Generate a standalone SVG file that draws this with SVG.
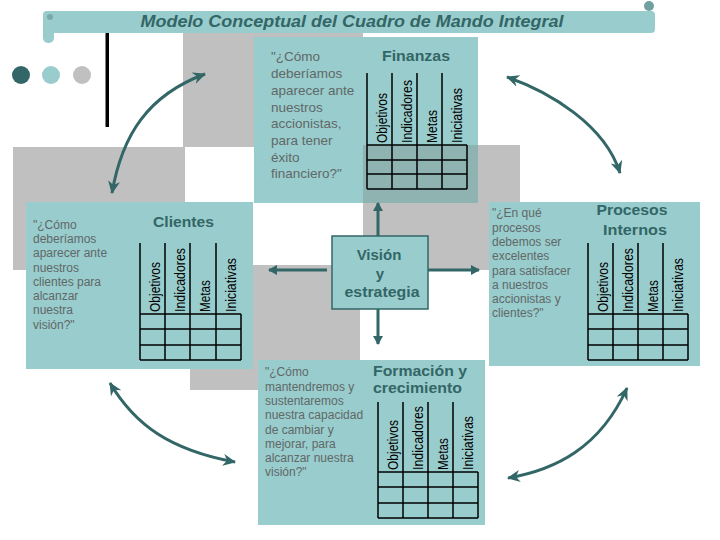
<svg xmlns="http://www.w3.org/2000/svg" width="720" height="540" viewBox="0 0 720 540">
<style>
.gray{fill:#c0c0c0}
.box{fill:#99cccc}
.q{font-family:"Liberation Sans",Arial,sans-serif;font-size:12px;fill:#606868}
.qf{font-size:13.5px}
.t{font-family:"Liberation Sans",Arial,sans-serif;font-weight:bold;font-size:15px;fill:#336666}
.lbl{font-family:"Liberation Sans",Arial,sans-serif;font-size:14px;fill:#000}
.grid{stroke:#000;stroke-width:1.5;fill:none}
.arc{stroke:#336666;stroke-width:3;fill:none;marker-start:url(#barb);marker-end:url(#barb)}
.st{stroke:#336666;stroke-width:3;fill:none;marker-end:url(#tri)}
</style>
<defs>
<marker id="barb" markerUnits="userSpaceOnUse" markerWidth="14" markerHeight="12" refX="12" refY="6" orient="auto-start-reverse">
<path d="M0,0 L13,6 L0,12 L4,6 z" fill="#336666"/>
</marker>
<marker id="tri" markerUnits="userSpaceOnUse" markerWidth="10" markerHeight="10" refX="8" refY="5" orient="auto">
<path d="M0,0 L9,5 L0,10 z" fill="#336666"/>
</marker>
</defs>
<rect width="720" height="540" fill="#fff"/>
<g id="background">
<rect class="gray" x="183" y="33" width="180" height="114"/>
<rect class="gray" x="13" y="147" width="172" height="123"/>
<rect class="gray" x="363" y="145" width="157" height="125"/>
<rect class="gray" x="190" y="265" width="170" height="125"/>
</g>
<g id="banner">
<rect x="43" y="11" width="612" height="22" rx="4" fill="#99cccc"/>
<rect x="43" y="11" width="11" height="32" rx="5" fill="#99cccc"/>
<circle cx="50" cy="17" r="3" fill="#7aa8a8"/>
<circle cx="649" cy="6" r="5" fill="#70a0a0"/>
<text x="352" y="27" text-anchor="middle" textLength="423" lengthAdjust="spacingAndGlyphs" font-family="Liberation Sans, Arial, sans-serif" font-size="17" font-weight="bold" font-style="italic" fill="#336666">Modelo Conceptual del Cuadro de Mando Integral</text>
</g>
<g id="decor">
<rect x="105.5" y="33" width="3.5" height="94" fill="#000"/>
<circle cx="21" cy="75" r="9" fill="#336666"/>
<circle cx="51" cy="75" r="9" fill="#99cccc"/>
<circle cx="82" cy="75" r="9" fill="#c0c0c0"/>
</g>
<g id="finanzas">
<rect class="box" x="254" y="37" width="224" height="166"/>
<rect x="363" y="145" width="115" height="58" fill="#8fb3b0"/>
<text class="q qf"><tspan x="271" y="61">"¿Cómo</tspan><tspan x="271" y="78">deberíamos</tspan><tspan x="271" y="95">aparecer ante</tspan><tspan x="271" y="112">nuestros</tspan><tspan x="271" y="128">accionistas,</tspan><tspan x="271" y="145">para tener</tspan><tspan x="271" y="162">éxito</tspan><tspan x="271" y="178">financiero?"</tspan></text>
<text class="t" x="382" y="61" textLength="68" lengthAdjust="spacingAndGlyphs">Finanzas</text>
<path class="grid" d="M367,73V189M392,73V189M417,73V189M442,73V189M467,145V189M367,145H467M367,160H467M367,174H467M367,189H467"/>
<text class="lbl" transform="translate(387,143) rotate(-90)" textLength="50" lengthAdjust="spacingAndGlyphs">Objetivos</text>
<text class="lbl" transform="translate(412,143) rotate(-90)" textLength="63" lengthAdjust="spacingAndGlyphs">Indicadores</text>
<text class="lbl" transform="translate(437,143) rotate(-90)" textLength="33" lengthAdjust="spacingAndGlyphs">Metas</text>
<text class="lbl" transform="translate(462,143) rotate(-90)" textLength="55" lengthAdjust="spacingAndGlyphs">Iniciativas</text>
</g>
<g id="clientes">
<rect class="box" x="26" y="202" width="227" height="167"/>
<text class="q"><tspan x="33" y="229">"¿Cómo</tspan><tspan x="33" y="243">deberíamos</tspan><tspan x="33" y="257">aparecer ante</tspan><tspan x="33" y="272">nuestros</tspan><tspan x="33" y="286">clientes para</tspan><tspan x="33" y="300">alcanzar</tspan><tspan x="33" y="314">nuestra</tspan><tspan x="33" y="329">visión?"</tspan></text>
<text class="t" x="153" y="227" textLength="61" lengthAdjust="spacingAndGlyphs">Clientes</text>
<path class="grid" d="M140,243V360M165,243V360M190,243V360M216,243V360M241,314V360M140,314H241M140,329H241M140,345H241M140,360H241"/>
<text class="lbl" transform="translate(160,312) rotate(-90)" textLength="50" lengthAdjust="spacingAndGlyphs">Objetivos</text>
<text class="lbl" transform="translate(185,312) rotate(-90)" textLength="64" lengthAdjust="spacingAndGlyphs">Indicadores</text>
<text class="lbl" transform="translate(210,312) rotate(-90)" textLength="32" lengthAdjust="spacingAndGlyphs">Metas</text>
<text class="lbl" transform="translate(236,312) rotate(-90)" textLength="54" lengthAdjust="spacingAndGlyphs">Iniciativas</text>
</g>
<g id="procesos">
<rect class="box" x="489" y="202" width="211" height="164"/>
<text class="q"><tspan x="492" y="217">"¿En qué</tspan><tspan x="492" y="232">procesos</tspan><tspan x="492" y="246">debemos ser</tspan><tspan x="492" y="260">excelentes</tspan><tspan x="492" y="275">para satisfacer</tspan><tspan x="492" y="289">a nuestros</tspan><tspan x="492" y="303">accionistas y</tspan><tspan x="492" y="317">clientes?"</tspan></text>
<text class="t" x="632" y="215" text-anchor="middle" textLength="71" lengthAdjust="spacingAndGlyphs">Procesos</text>
<text class="t" x="635" y="235" text-anchor="middle" textLength="64" lengthAdjust="spacingAndGlyphs">Internos</text>
<path class="grid" d="M588,243V360M613,243V360M638,243V360M663,243V360M688,314V360M588,314H688M588,329H688M588,345H688M588,360H688"/>
<text class="lbl" transform="translate(608,312) rotate(-90)" textLength="50" lengthAdjust="spacingAndGlyphs">Objetivos</text>
<text class="lbl" transform="translate(633,312) rotate(-90)" textLength="64" lengthAdjust="spacingAndGlyphs">Indicadores</text>
<text class="lbl" transform="translate(658,312) rotate(-90)" textLength="32" lengthAdjust="spacingAndGlyphs">Metas</text>
<text class="lbl" transform="translate(683,312) rotate(-90)" textLength="54" lengthAdjust="spacingAndGlyphs">Iniciativas</text>
</g>
<g id="formacion">
<rect class="box" x="258" y="360" width="227" height="165"/>
<text class="q"><tspan x="265" y="376">"¿Cómo</tspan><tspan x="265" y="391">mantendremos y</tspan><tspan x="265" y="405">sustentaremos</tspan><tspan x="265" y="419">nuestra capacidad</tspan><tspan x="265" y="434">de cambiar y</tspan><tspan x="265" y="448">mejorar, para</tspan><tspan x="265" y="462">alcanzar nuestra</tspan><tspan x="265" y="476">visión?"</tspan></text>
<text class="t" x="373" y="376" font-size="16" textLength="94" lengthAdjust="spacingAndGlyphs">Formación y</text>
<text class="t" x="373" y="393" font-size="16" textLength="89" lengthAdjust="spacingAndGlyphs">crecimiento</text>
<path class="grid" d="M378,402V518M403,402V518M428,402V518M453,402V518M478,472V518M378,472H478M378,487H478M378,503H478M378,518H478"/>
<text class="lbl" transform="translate(398,470) rotate(-90)" textLength="50" lengthAdjust="spacingAndGlyphs">Objetivos</text>
<text class="lbl" transform="translate(423,470) rotate(-90)" textLength="64" lengthAdjust="spacingAndGlyphs">Indicadores</text>
<text class="lbl" transform="translate(448,470) rotate(-90)" textLength="32" lengthAdjust="spacingAndGlyphs">Metas</text>
<text class="lbl" transform="translate(473,470) rotate(-90)" textLength="54" lengthAdjust="spacingAndGlyphs">Iniciativas</text>
</g>
<g id="vision">
<rect x="332" y="236" width="96" height="73" fill="#99cccc" stroke="#336666" stroke-width="1.5"/>
<text class="t" x="379" y="260" text-anchor="middle">Visión</text>
<text class="t" x="380" y="279" text-anchor="middle">y</text>
<text class="t" x="382" y="297" text-anchor="middle" textLength="75" lengthAdjust="spacingAndGlyphs">estrategia</text>
</g>
<g id="connectors">
<path class="st" d="M378,236V203"/>
<path class="st" d="M378,309V344"/>
<path class="st" d="M327,270H269"/>
<path class="st" d="M428,270H479"/>
<path class="arc" d="M112,193 C122,135 148,95 205,74"/>
<path class="arc" d="M507,77 C550,92 605,125 620,173"/>
<path class="arc" d="M110,383 C135,425 170,450 235,462"/>
<path class="arc" d="M508,478 C555,470 600,448 627,388"/>
</g>
</svg>
